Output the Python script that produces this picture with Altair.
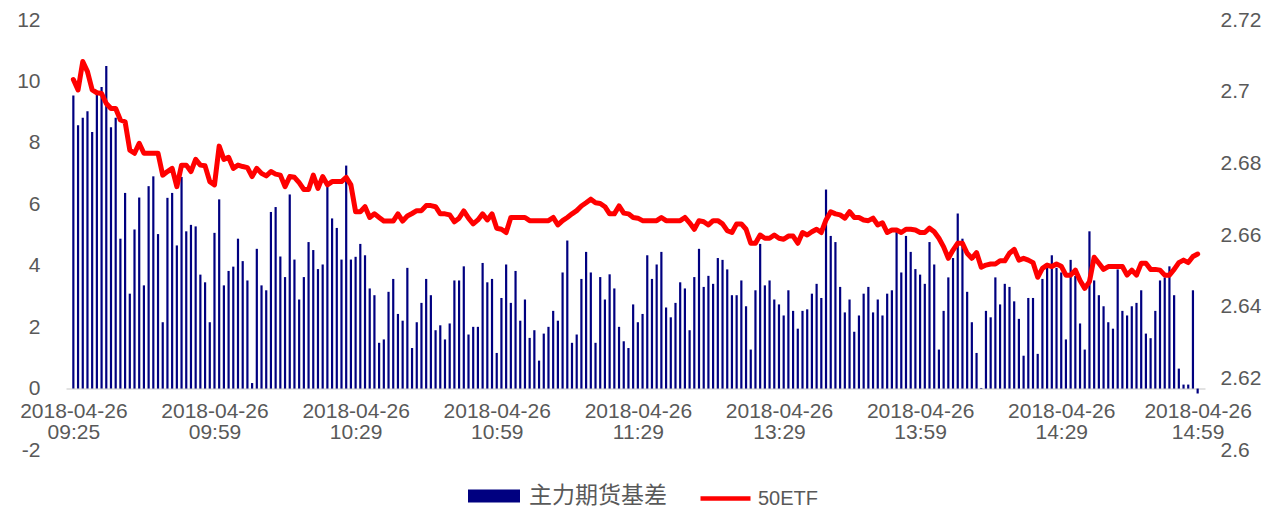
import altair as alt
import pandas as pd

# ---- data ----
basis = [
    9.54, 8.57, 8.82, 9.03, 8.35, 9.58, 9.82, 10.50, 8.51, 8.82,
    4.88, 6.37, 3.09, 5.18, 6.22, 3.36, 6.59, 6.91, 5.03, 2.16,
    6.21, 6.37, 4.66, 6.89, 5.12, 5.33, 5.28, 3.71, 3.46, 2.16,
    5.07, 6.16, 3.36, 3.83, 3.97, 4.88, 4.15, 3.52, 0.18, 4.55,
    3.36, 3.20, 5.75, 5.91, 4.30, 3.63, 6.32, 4.20, 2.90, 3.63,
    4.77, 4.51, 3.89, 4.04, 6.59, 5.54, 5.23, 4.20, 7.26, 4.20,
    4.29, 4.71, 4.34, 3.26, 3.04, 1.49, 1.60, 3.15, 3.57, 2.43,
    2.21, 3.93, 1.32, 2.16, 2.79, 3.57, 3.04, 1.90, 2.06, 1.60,
    2.12, 3.52, 3.52, 3.98, 1.76, 2.01, 2.01, 4.09, 3.46, 3.57,
    1.16, 2.95, 4.04, 2.79, 3.83, 2.21, 2.90, 1.65, 1.90, 0.91,
    1.79, 2.01, 2.53, 2.21, 3.78, 4.82, 1.49, 1.76, 3.57, 4.45,
    3.78, 1.49, 3.63, 2.90, 3.72, 3.26, 2.01, 1.54, 1.32, 2.74,
    2.16, 2.43, 4.34, 3.57, 4.04, 4.45, 2.64, 2.32, 2.79, 3.46,
    3.26, 1.90, 3.63, 4.55, 3.31, 3.67, 3.41, 4.25, 4.19, 3.88,
    3.04, 3.04, 3.52, 2.68, 1.27, 3.20, 4.71, 3.36, 3.52, 2.90,
    2.74, 2.38, 3.20, 2.53, 1.95, 2.53, 2.58, 3.09, 3.41, 2.95,
    6.48, 4.97, 4.77, 3.31, 2.48, 2.90, 1.85, 2.38, 3.09, 3.31,
    2.48, 2.90, 2.38, 3.09, 3.20, 5.12, 3.78, 4.97, 4.45, 3.89,
    3.71, 3.41, 4.77, 4.04, 1.27, 2.53, 3.62, 4.25, 5.70, 4.88,
    3.15, 2.16, 1.16, 0.02, 2.53, 2.32, 3.62, 2.74, 3.41, 3.31,
    2.84, 2.27, 1.07, 2.95, 2.95, 1.13, 3.57, 4.04, 4.34, 3.93,
    3.78, 1.60, 4.19, 3.67, 2.12, 1.27, 5.12, 3.52, 3.04, 2.68,
    2.16, 1.95, 3.88, 2.53, 2.38, 2.68, 2.79, 3.20, 1.79, 1.64,
    2.53, 3.52, 3.62, 3.98, 3.04, 0.65, 0.13, 0.13, 3.20, -0.16,
]

etf = [
    2.7034, 2.7005, 2.7084, 2.7056, 2.7005, 2.6997, 2.6995, 2.6967, 2.6953, 2.6953,
    2.6921, 2.6916, 2.6837, 2.6828, 2.6856, 2.6828, 2.6828, 2.6828, 2.6828, 2.6767,
    2.6777, 2.6786, 2.6735, 2.6795, 2.6795, 2.6777, 2.6811, 2.6795, 2.6793, 2.6749,
    2.6740, 2.6848, 2.6811, 2.6817, 2.6786, 2.6795, 2.6791, 2.6788, 2.6763, 2.6786,
    2.6772, 2.6765, 2.6777, 2.6770, 2.6767, 2.6735, 2.6763, 2.6761, 2.6746, 2.6727,
    2.6727, 2.6767, 2.6730, 2.6763, 2.6740, 2.6749, 2.6749, 2.6749, 2.6761, 2.6740,
    2.6665, 2.6665, 2.6679, 2.6649, 2.6659, 2.6649, 2.6639, 2.6639, 2.6639, 2.6659,
    2.6639, 2.6653, 2.6660, 2.6668, 2.6668, 2.6682, 2.6682, 2.6679, 2.6659, 2.6659,
    2.6656, 2.6637, 2.6647, 2.6667, 2.6647, 2.6631, 2.6642, 2.6659, 2.6642, 2.6659,
    2.6619, 2.6616, 2.6607, 2.6649, 2.6649, 2.6649, 2.6649, 2.6640, 2.6640, 2.6640,
    2.6640, 2.6640, 2.6649, 2.6628, 2.6640, 2.6649, 2.6659, 2.6668, 2.6681, 2.6690,
    2.6700, 2.6690, 2.6688, 2.6679, 2.6659, 2.6659, 2.6681, 2.6661, 2.6659, 2.6649,
    2.6647, 2.6640, 2.6640, 2.6640, 2.6640, 2.6649, 2.6640, 2.6640, 2.6640, 2.6640,
    2.6649, 2.6634, 2.6616, 2.6640, 2.6637, 2.6628, 2.6640, 2.6640, 2.6631, 2.6612,
    2.6607, 2.6631, 2.6631, 2.6616, 2.6577, 2.6577, 2.6600, 2.6591, 2.6591, 2.6600,
    2.6591, 2.6588, 2.6597, 2.6597, 2.6577, 2.6607, 2.6600, 2.6609, 2.6616, 2.6607,
    2.6642, 2.6665, 2.6659, 2.6656, 2.6647, 2.6665, 2.6649, 2.6649, 2.6642, 2.6640,
    2.6647, 2.6628, 2.6634, 2.6607, 2.6614, 2.6614, 2.6607, 2.6616, 2.6616, 2.6614,
    2.6607, 2.6607, 2.6619, 2.6609, 2.6591, 2.6567, 2.6535, 2.6558, 2.6577, 2.6577,
    2.6549, 2.6535, 2.6551, 2.6510, 2.6516, 2.6519, 2.6519, 2.6528, 2.6528, 2.6549,
    2.6560, 2.6530, 2.6535, 2.6530, 2.6523, 2.6482, 2.6507, 2.6516, 2.6512, 2.6519,
    2.6513, 2.6488, 2.6488, 2.6502, 2.6473, 2.6451, 2.6470, 2.6538, 2.6521, 2.6504,
    2.6512, 2.6512, 2.6512, 2.6512, 2.6488, 2.6502, 2.6488, 2.6521, 2.6521, 2.6504,
    2.6504, 2.6502, 2.6488, 2.6488, 2.6504, 2.6523, 2.6530, 2.6523, 2.6540, 2.6547,
]

tick_idx = [0, 30, 60, 90, 120, 150, 180, 210, 239]
tick_times = ["09:25", "09:59", "10:29", "10:59", "11:29", "13:29", "13:59", "14:29", "14:59"]
tick_date = "2018-04-26"

left_ticks = [-2, 0, 2, 4, 6, 8, 10, 12]
right_ticks = [2.6, 2.62, 2.64, 2.66, 2.68, 2.7, 2.72]

bar_name = "主力期货基差"
line_name = "50ETF"

NAVY = "#000080"
RED = "#FF0000"
TXT = "#595959"
FONT = "Liberation Sans"

n = len(basis)
df_bar = pd.DataFrame({"idx": list(range(n)), "basis": basis, "series": bar_name})
df_line = pd.DataFrame({"idx": list(range(n)), "etf": etf, "series": line_name})

W, H = 1139, 430
xscale = alt.Scale(domain=[-0.5, n - 0.5], nice=False, zero=False)

label_expr = ("['" + tick_date + "', " + str(tick_times) +
              "[indexof(" + str(tick_idx) + ", datum.value)]]")


def x_axis():
    return alt.Axis(
        values=tick_idx, labelExpr=label_expr, offset=-H * 2 / 14,
        domain=True, domainColor="#D9D9D9", domainWidth=1.5,
        ticks=False, grid=False, title=None, labelAngle=0,
        labelFont=FONT, labelFontSize=21, labelColor=TXT,
        labelPadding=12, labelLineHeight=21,
        labelFlush=False, labelOverlap=False, labelBound=False,
    )


bars = alt.Chart(df_bar).mark_bar(size=2.2).encode(
    x=alt.X("idx:Q", scale=xscale, axis=x_axis()),
    y=alt.Y("basis:Q",
            scale=alt.Scale(domain=[-2, 12], nice=False, zero=False),
            axis=alt.Axis(values=left_ticks, orient="left", labelExpr="'' + datum.value",
                          domain=False, ticks=False, grid=False, title=None,
                          labelFont=FONT, labelFontSize=21, labelColor=TXT,
                          labelPadding=26)),
    fill=alt.Fill("series:N", scale=alt.Scale(domain=[bar_name], range=[NAVY]),
                  legend=alt.Legend(orient="none", legendX=415, legendY=463, title=None,
                                    symbolType="M-2,-0.5H2V0.5H-2Z", symbolSize=676,
                                    symbolStrokeWidth=0,
                                    labelFont="Noto Sans CJK SC", labelFontSize=23,
                                    labelColor=TXT, labelOffset=22)),
)

line = alt.Chart(df_line).mark_line(strokeWidth=5, strokeJoin="round", strokeCap="round").encode(
    x=alt.X("idx:Q", scale=xscale, axis=x_axis()),
    y=alt.Y("etf:Q",
            scale=alt.Scale(domain=[2.6, 2.72], nice=False, zero=False),
            axis=alt.Axis(values=right_ticks, orient="right", format=".2~f",
                          domain=False, ticks=False, grid=False, title=None,
                          labelFont=FONT, labelFontSize=21, labelColor=TXT,
                          labelPadding=15)),
    stroke=alt.Stroke("series:N", scale=alt.Scale(domain=[line_name], range=[RED]),
                      legend=alt.Legend(orient="none", legendX=632, legendY=451, title=None,
                                        symbolType="stroke", symbolSize=2500,
                                        symbolStrokeWidth=4.5,
                                        labelFont=FONT, labelFontSize=20,
                                        labelColor=TXT, labelOffset=5)),
)

chart = alt.layer(bars, line).resolve_scale(y="independent").properties(
    width=W, height=H,
    autosize=alt.AutoSizeParams(type="none"),
    padding={"left": 58, "top": 12, "right": 60, "bottom": 62},
).configure_view(stroke=None)

chart.save("out.html", embed_options={"renderer": "svg", "actions": False})
